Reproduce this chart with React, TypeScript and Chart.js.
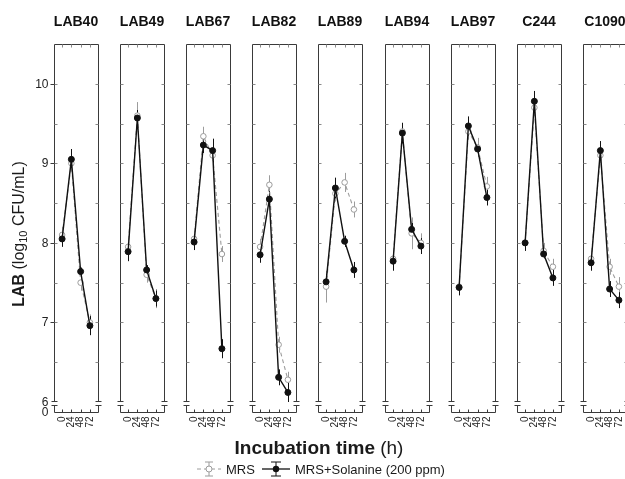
import React, { useEffect, useRef } from "react";
import { Chart, registerables } from "chart.js";

Chart.register(...registerables);

const TIMES = [0, 24, 48, 72];
const TIME_LABELS = ["0", "24", "48", "72"];
const STRAINS = ["LAB40", "LAB49", "LAB67", "LAB82", "LAB89", "LAB94", "LAB97", "C244", "C1090"];
const Y_TICKS = [6, 7, 8, 9, 10];

const SOL_VALUES = [
  [8.05, 9.05, 7.64, 6.96],
  [7.89, 9.57, 7.66, 7.3],
  [8.01, 9.23, 9.16, 6.67],
  [7.85, 8.55, 6.31, 6.12],
  [7.51, 8.69, 8.02, 7.66],
  [7.77, 9.38, 8.17, 7.96],
  [7.44, 9.47, 9.18, 8.57],
  [8.0, 9.78, 7.86, 7.56],
  [7.75, 9.16, 7.42, 7.28],
];
const SOL_ERRORS = [
  [0.1, 0.13, 0.05, 0.12],
  [0.12, 0.1, 0.06, 0.1],
  [0.1, 0.1, 0.15, 0.12],
  [0.1, 0.1, 0.1, 0.12],
  [0.1, 0.13, 0.07, 0.1],
  [0.12, 0.13, 0.08, 0.1],
  [0.1, 0.12, 0.06, 0.1],
  [0.1, 0.13, 0.05, 0.1],
  [0.1, 0.12, 0.1, 0.1],
];
const MRS_VALUES = [
  [8.1, 9.0, 7.5, 7.0],
  [7.95, 9.6, 7.6, 7.3],
  [8.05, 9.34, 9.1, 7.86],
  [7.95, 8.73, 6.72, 6.28],
  [7.45, 8.62, 8.76, 8.42],
  [7.8, 9.4, 8.12, 8.0],
  [7.45, 9.4, 9.2, 8.71],
  [8.0, 9.7, 7.9, 7.7],
  [7.8, 9.1, 7.7, 7.45],
];
const MRS_ERRORS = [
  [0.1, 0.1, 0.1, 0.1],
  [0.1, 0.17, 0.1, 0.12],
  [0.1, 0.12, 0.15, 0.1],
  [0.1, 0.12, 0.1, 0.1],
  [0.2, 0.1, 0.12, 0.1],
  [0.1, 0.1, 0.2, 0.12],
  [0.1, 0.1, 0.12, 0.12],
  [0.1, 0.1, 0.1, 0.1],
  [0.1, 0.1, 0.1, 0.12],
];

const VIEW_W = 625;
const W = 680;
const H = 479;
const FIRST_LEFT = 54;
const STEP = 66.1;
const PANEL_W = 44;
const PLOT_TOP = 44;
const PLOT_BOTTOM = 402;
const ZERO_Y = 412;
const FONT = "'Liberation Sans', Arial, sans-serif";
const MRS_COLOR = "#9c9c9c";
const SOL_COLOR = "#111111";
const FRAME_COLOR = "#3a3a3a";

function line(ctx: CanvasRenderingContext2D, x1: number, y1: number, x2: number, y2: number) {
  ctx.beginPath();
  ctx.moveTo(x1, y1);
  ctx.lineTo(x2, y2);
  ctx.stroke();
}

function drawGlobal(ctx: CanvasRenderingContext2D) {
  ctx.save();
  // Y axis label
  ctx.translate(20, 234);
  ctx.rotate(-Math.PI / 2);
  ctx.fillStyle = "#1a1a1a";
  ctx.textBaseline = "middle";
  const parts: [string, string, number][] = [
    ["LAB", `bold 16px ${FONT}`, 0],
    [" (log", `16px ${FONT}`, 0],
    ["10", `11px ${FONT}`, 4],
    [" CFU/mL)", `16px ${FONT}`, 0],
  ];
  let total = 0;
  for (const p of parts) {
    ctx.font = p[1];
    total += ctx.measureText(p[0]).width;
  }
  let x = -total / 2;
  ctx.textAlign = "left";
  for (const p of parts) {
    ctx.font = p[1];
    ctx.fillText(p[0], x, p[2]);
    x += ctx.measureText(p[0]).width;
  }
  ctx.restore();

  // X axis label
  ctx.save();
  ctx.fillStyle = "#1a1a1a";
  ctx.textBaseline = "middle";
  ctx.textAlign = "left";
  ctx.font = `bold 19px ${FONT}`;
  const a = "Incubation time";
  const aw = ctx.measureText(a).width;
  ctx.font = `19px ${FONT}`;
  const b = " (h)";
  const bw = ctx.measureText(b).width;
  const sx = 319 - (aw + bw) / 2;
  ctx.font = `bold 19px ${FONT}`;
  ctx.fillText(a, sx, 449);
  ctx.font = `19px ${FONT}`;
  ctx.fillText(b, sx + aw, 449);
  ctx.restore();

  // Legend
  ctx.save();
  const ly = 469;
  ctx.strokeStyle = MRS_COLOR;
  ctx.lineWidth = 1;
  ctx.setLineDash([4, 3]);
  line(ctx, 197, ly, 221, ly);
  ctx.setLineDash([]);
  line(ctx, 209, ly - 7, 209, ly + 7);
  line(ctx, 205, ly - 7, 213, ly - 7);
  line(ctx, 205, ly + 7, 213, ly + 7);
  ctx.fillStyle = "#ffffff";
  ctx.beginPath();
  ctx.arc(209, ly, 3, 0, Math.PI * 2);
  ctx.fill();
  ctx.stroke();
  ctx.strokeStyle = SOL_COLOR;
  ctx.lineWidth = 1.3;
  line(ctx, 262, ly, 290, ly);
  ctx.lineWidth = 1;
  line(ctx, 276, ly - 7, 276, ly + 7);
  line(ctx, 271, ly - 7, 281, ly - 7);
  line(ctx, 271, ly + 7, 281, ly + 7);
  ctx.fillStyle = SOL_COLOR;
  ctx.beginPath();
  ctx.arc(276, ly, 3.2, 0, Math.PI * 2);
  ctx.fill();
  ctx.fillStyle = "#1a1a1a";
  ctx.font = `13px ${FONT}`;
  ctx.textBaseline = "middle";
  ctx.textAlign = "left";
  ctx.fillText("MRS", 226, ly + 1);
  ctx.fillText("MRS+Solanine (200 ppm)", 295, ly + 1);
  ctx.restore();
}

function makePlugin(idx: number) {
  return {
    id: "panelDecor" + idx,
    beforeDatasetsDraw(chart: any) {
      const ctx: CanvasRenderingContext2D = chart.ctx;
      const xs = chart.scales.x;
      const ys = chart.scales.y;
      const sets: [number[], number[], string][] = [
        [MRS_VALUES[idx], MRS_ERRORS[idx], MRS_COLOR],
        [SOL_VALUES[idx], SOL_ERRORS[idx], SOL_COLOR],
      ];
      ctx.save();
      ctx.lineWidth = 1;
      for (const [vals, errs, color] of sets) {
        ctx.strokeStyle = color;
        vals.forEach((v, k) => {
          const px = Math.round(xs.getPixelForValue(TIMES[k])) + 0.5;
          line(ctx, px, ys.getPixelForValue(v + errs[k]), px, ys.getPixelForValue(v - errs[k]));
        });
      }
      ctx.restore();
    },
    afterDraw(chart: any) {
      const ctx: CanvasRenderingContext2D = chart.ctx;
      const xs = chart.scales.x;
      const ys = chart.scales.y;
      const { left, right, top } = chart.chartArea;
      const L = Math.round(left) + 0.5;
      const R = Math.round(right) + 0.5;
      const T = Math.round(top) + 0.5;
      const B = Math.round(ys.getPixelForValue(6)) + 0.5;
      const Z = ZERO_Y + 0.5;
      ctx.save();
      ctx.fillStyle = "#111";
      ctx.font = `bold 14px ${FONT}`;
      ctx.textAlign = "center";
      ctx.textBaseline = "middle";
      ctx.fillText(STRAINS[idx], (left + right) / 2, 22);

      ctx.strokeStyle = FRAME_COLOR;
      ctx.lineWidth = 1;
      line(ctx, L, T, R, T);
      line(ctx, L, T, L, B - 1);
      line(ctx, R, T, R, B - 1);
      for (const ex of [L, R]) {
        line(ctx, ex - 3, B - 1, ex + 3, B - 1);
        line(ctx, ex - 3, B + 3, ex + 3, B + 3);
        line(ctx, ex, B + 3, ex, Z);
      }
      line(ctx, L, Z, R, Z);

      ctx.strokeStyle = "#8a8a8a";
      for (let v = 6.5; v <= 10.01; v += 0.5) {
        const py = Math.round(ys.getPixelForValue(v)) + 0.5;
        line(ctx, L, py, L + 3, py);
        line(ctx, R - 3, py, R, py);
      }
      for (const t of TIMES) {
        const px = Math.round(xs.getPixelForValue(t)) + 0.5;
        line(ctx, px, T, px, T + 3);
      }
      ctx.strokeStyle = FRAME_COLOR;
      for (const t of TIMES) {
        const px = Math.round(xs.getPixelForValue(t)) + 0.5;
        line(ctx, px, Z, px, Z - 3);
      }

      ctx.fillStyle = "#222";
      ctx.font = `10px ${FONT}`;
      ctx.textAlign = "right";
      ctx.textBaseline = "middle";
      TIMES.forEach((t, k) => {
        const px = xs.getPixelForValue(t);
        ctx.save();
        ctx.translate(px, Z + 4);
        ctx.rotate(-Math.PI / 2);
        ctx.fillText(TIME_LABELS[k], 0, 0);
        ctx.restore();
      });

      if (idx === 0) {
        ctx.strokeStyle = FRAME_COLOR;
        ctx.fillStyle = "#222";
        ctx.font = `12px ${FONT}`;
        ctx.textAlign = "right";
        ctx.textBaseline = "middle";
        for (const v of Y_TICKS) {
          const py = Math.round(ys.getPixelForValue(v)) + 0.5;
          if (v !== 6) line(ctx, L - 4, py, L, py);
          ctx.fillText(String(v), L - 6, py);
        }
        ctx.fillText("0", L - 6, Z);
        drawGlobal(ctx);
      }
      ctx.restore();
    },
  };
}

function Panel({ idx }: { idx: number }) {
  const ref = useRef<HTMLCanvasElement | null>(null);
  useEffect(() => {
    if (!ref.current) return;
    const panelLeft = Math.round(FIRST_LEFT + idx * STEP);
    const chart = new Chart(ref.current, {
      type: "line",
      data: {
        datasets: [
          {
            label: "MRS+Solanine (200 ppm)",
            data: TIMES.map((t, k) => ({ x: t, y: SOL_VALUES[idx][k] })),
            borderColor: SOL_COLOR,
            backgroundColor: SOL_COLOR,
            borderWidth: 1.4,
            pointRadius: 3,
            pointBackgroundColor: SOL_COLOR,
            pointBorderColor: SOL_COLOR,
            pointBorderWidth: 1,
            tension: 0,
            order: 0,
          },
          {
            label: "MRS",
            data: TIMES.map((t, k) => ({ x: t, y: MRS_VALUES[idx][k] })),
            borderColor: MRS_COLOR,
            backgroundColor: "#ffffff",
            borderWidth: 1.1,
            borderDash: [4, 3],
            pointRadius: 2.8,
            pointBackgroundColor: "#ffffff",
            pointBorderColor: MRS_COLOR,
            pointBorderWidth: 1,
            tension: 0,
            order: 1,
          },
        ],
      },
      options: {
        animation: false,
        responsive: false,
        devicePixelRatio: 1,
        events: [],
        layout: {
          padding: {
            left: panelLeft,
            right: W - (panelLeft + PANEL_W),
            top: PLOT_TOP,
            bottom: H - PLOT_BOTTOM,
          },
        },
        plugins: {
          legend: { display: false },
          title: { display: false },
          tooltip: { enabled: false },
        },
        scales: {
          x: { type: "linear", min: -21, max: 93, display: false },
          y: { type: "linear", min: 6, max: 10.5, display: false },
        },
      },
      plugins: [makePlugin(idx)],
    });
    return () => chart.destroy();
  }, [idx]);
  return (
    <canvas
      ref={ref}
      width={W}
      height={H}
      style={{ position: "absolute", left: 0, top: 0, width: W, height: H }}
    />
  );
}

export default function App() {
  return (
    <div
      style={{
        position: "fixed",
        left: 0,
        top: 0,
        width: VIEW_W,
        height: H,
        background: "#ffffff",
        overflow: "hidden",
      }}
    >
      {STRAINS.map((s, i) => (
        <Panel key={s} idx={i} />
      ))}
    </div>
  );
}
